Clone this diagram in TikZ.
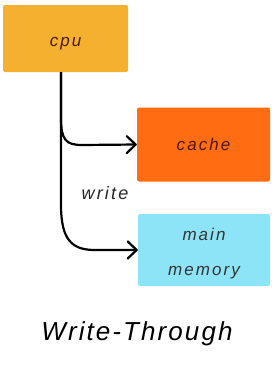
\documentclass[tikz,border=0pt]{standalone}
\usepackage{fontspec}
\newfontfamily\hand[LetterSpace=12]{Liberation Sans}
\newfontfamily\handt[LetterSpace=8]{Liberation Sans}
\usetikzlibrary{arrows.meta}
\definecolor{cpuc}{HTML}{F5B030}
\definecolor{cachec}{HTML}{FF6C12}
\definecolor{memc}{HTML}{8EE4F7}
\definecolor{txtc}{HTML}{4A1A12}
\tikzset{
  hfont/.style={font=\hand\itshape\fontsize{17}{35}\selectfont},
  box/.style={draw=none,rounded corners=2pt,inner sep=0pt,align=center,text=txtc,hfont},
  conn/.style={line width=2.2pt,-{Straight Barb[length=9pt,width=17pt,line width=2.2pt,round]}},
}
\begin{document}
\begin{tikzpicture}[x=1pt,y=-1pt]
\useasboundingbox (0,0) rectangle (272,381);
\node[box,fill=cpuc,minimum width=125pt,minimum height=67pt,text depth=0pt,text height=9pt] (cpu) at (65.5,38.5) {\raisebox{-3pt}{cpu}};
\node[box,fill=cachec,minimum width=133pt,minimum height=74pt] (cache) at (203.5,144.5) {\raisebox{-2pt}{cache}};
\node[box,fill=memc,minimum width=132pt,minimum height=72pt,
  label={[hfont,align=center,text=black!80,yshift=-4pt]center:main\\memory}] (mem) at (204,250) {};
\coordinate (s1) at (61,72);
\draw[conn] (s1) -- (61,118) .. controls (61,140) and (66,145) .. (82,145) -- (cache.west);
\draw[conn] (s1) -- (61,205) .. controls (61,240) and (72,250) .. (95,250) -- (mem.west);
\node[font=\hand\itshape\fontsize{18}{20}\selectfont,text=black!85] (w) at (105,193) {write};
\node[font=\handt\itshape\fontsize{26}{30}\selectfont,text=black] (title) at (137,334) {Write-Through};
\end{tikzpicture}
\end{document}
